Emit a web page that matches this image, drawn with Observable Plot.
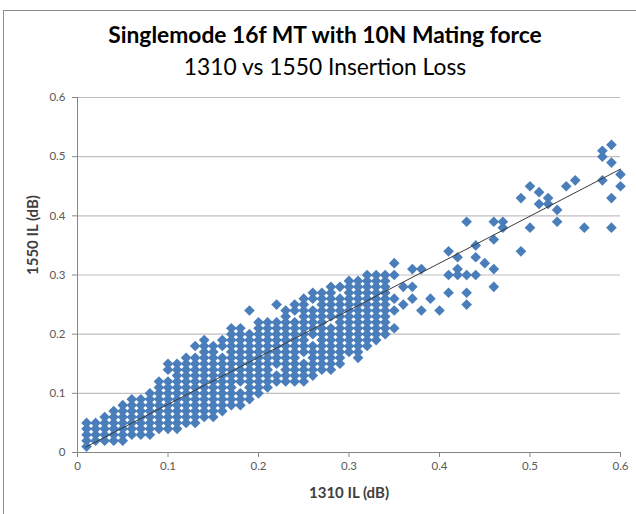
<!DOCTYPE html>
<html>
<head>
<meta charset="utf-8">
<script src="https://cdn.jsdelivr.net/npm/d3@7"></script>
<script src="https://cdn.jsdelivr.net/npm/@observablehq/plot@0.6"></script>
<style>
  html, body { margin: 0; padding: 0; background: #fff; }
  #wrap { position: relative; width: 636px; height: 514px; overflow: hidden; background: #fff; }
  #frame { position: absolute; left: 3px; top: 10px; width: 700px; height: 600px;
           border-left: 1px solid #8c8c8c; border-top: 1px solid #8c8c8c; pointer-events: none; }
  #head { position: relative; height: 85px; font-family: Lato, "Open Sans", sans-serif; color: #000; }
  #title { position: absolute; left: 0; width: 650px; top: 22px; text-align: center;
           font-size: 22.8px; font-weight: bold; line-height: 1.1; }
  #subtitle { position: absolute; left: 0; width: 650px; top: 54px; text-align: center;
              font-size: 22.8px; line-height: 1.1; }
  svg { display: block; }
</style>
</head>
<body>
<div id="wrap">
  <div id="head">
    <div id="title">Singlemode 16f MT with 10N Mating force</div>
    <div id="subtitle">1310 vs 1550 Insertion Loss</div>
  </div>
  <div id="chart"></div>
  <div id="frame"></div>
</div>
<script>
// ---- data (values in hundredths of a dB) ----
// Dense region: for each 1310 IL value, the 1550 IL values observed
const denseX = [1,2,3,4,5,6,7,8,9,10,11,12,13,14,15,16,17,18,19,20,21,22,23,24,25,26,27,28,29,30,31,32,33,34];
const denseY = [
  [1,2,3,4,5],
  [2,3,4,5],
  [2,3,4,5,6],
  [2,3,4,5,6,7],
  [2,3,4,5,6,7,8],
  [3,4,5,6,7,8,9],
  [3,4,5,6,7,8,9],
  [3,4,5,6,7,8,9,10],
  [4,5,6,7,8,9,10,11,12],
  [4,5,6,7,8,9,10,11,12,14,15],
  [4,5,6,7,8,9,10,11,12,13,14,15],
  [5,6,7,8,9,10,11,12,13,14,15,16],
  [5,6,7,8,9,10,11,12,13,14,15,16,18],
  [6,7,8,9,10,11,12,13,14,15,16,17,18,19],
  [6,7,8,9,10,11,12,13,14,15,16,17,18],
  [7,8,9,10,11,12,13,14,15,16,18,19],
  [8,9,10,11,12,13,14,15,16,17,18,19,20,21],
  [8,9,10,12,13,14,15,16,17,18,19,20,21],
  [9,10,11,12,13,14,15,16,17,18,19,20,24],
  [10,11,12,13,14,15,16,17,18,19,20,21,22],
  [11,12,13,14,15,16,17,18,19,20,21,22],
  [12,13,15,16,17,18,19,20,21,22,25],
  [12,13,14,15,16,17,18,19,20,21,22,23,24],
  [12,13,14,15,16,17,18,19,20,21,22,24,25],
  [12,13,14,15,17,18,19,20,21,22,23,24,25,26],
  [13,14,15,16,17,18,20,21,22,23,24,26,27],
  [14,15,16,17,18,19,20,21,22,23,24,25,26,27],
  [14,15,16,17,18,19,20,21,23,24,25,26,27,28],
  [15,16,17,18,19,20,21,22,23,24,25,26,28],
  [17,18,19,20,21,22,23,24,25,26,27,28,29],
  [16,17,18,19,20,21,22,23,24,25,26,27,28,29],
  [18,19,20,21,22,23,24,25,26,27,28,29,30],
  [19,20,21,22,23,24,25,26,27,28,29,30],
  [20,21,22,23,24,25,26,27,28,29,30]
];
// Sparse region: individual points
const sparseX = [35,35,35,35,35,36,36,37,37,37,38,38,39,40,41,41,41,42,42,42,43,43,43,43,44,44,44,45,46,46,46,46,47,47,49,49,50,50,51,51,52,52,53,53,54,55,56,58,58,58,59,59,59,59,60,60];
const sparseY = [21,24,26,30,32,25,28,26,28,31,24,31,26,24,27,30,34,30,31,33,25,27,30,39,30,33,35,32,28,31,36,39,38,39,34,43,38,45,42,44,42,43,39,41,45,46,38,46,50,51,38,43,49,52,45,47];
// Linear trendline endpoints as drawn in the chart
const trendX = [0.009, 0.60];
const trendY = [0.009, 0.479];
const tickValues = [0, 0.1, 0.2, 0.3, 0.4, 0.5, 0.6];

// ---- build tables ----
const points = [];
denseX.forEach((x, i) => denseY[i].forEach(y => points.push({x: x / 100, y: y / 100})));
sparseX.forEach((x, i) => points.push({x: x / 100, y: sparseY[i] / 100}));
const trend = trendX.map((x, i) => ({x, y: trendY[i]}));

const fmt = d => String(d);
const chart = Plot.plot({
  width: 636,
  height: 429,
  marginTop: 12,
  marginBottom: 62,
  marginLeft: 77,
  marginRight: 16,
  style: {fontFamily: "Lato, 'Open Sans', sans-serif", fontSize: "11.5px", background: "white"},
  x: {domain: [0, 0.6]},
  y: {domain: [0, 0.6]},
  marks: [
    Plot.gridY(tickValues.filter(d => d > 0), {stroke: "#bfbfbf", strokeOpacity: 1, strokeWidth: 1.2}),
    Plot.axisX(tickValues, {tickFormat: fmt, tickSize: 5, tickPadding: 4, stroke: "#868686", fill: "#595959", label: null}),
    Plot.axisY(tickValues, {tickFormat: fmt, tickSize: 5, tickPadding: 7, stroke: "#868686", fill: "#595959", label: null}),
    Plot.ruleY([0], {stroke: "#868686"}),
    Plot.ruleX([0], {stroke: "#868686"}),
    Plot.dot(points, {x: "x", y: "y", symbol: "diamond2", r: 4.8, fill: "#4a7ebb", stroke: "none"}),
    Plot.line(trend, {x: "x", y: "y", stroke: "#3a3a3a", strokeWidth: 1}),
    Plot.text(["1310 IL (dB)"], {frameAnchor: "bottom", dy: 41, lineAnchor: "middle", fontWeight: "bold", fontSize: 15, fill: "#404040"}),
    Plot.text(["1550 IL (dB)"], {frameAnchor: "left", dx: -44, rotate: -90, lineAnchor: "middle", fontWeight: "bold", fontSize: 15, fill: "#404040"})
  ]
});
document.getElementById("chart").appendChild(chart);
</script>
</body>
</html>
